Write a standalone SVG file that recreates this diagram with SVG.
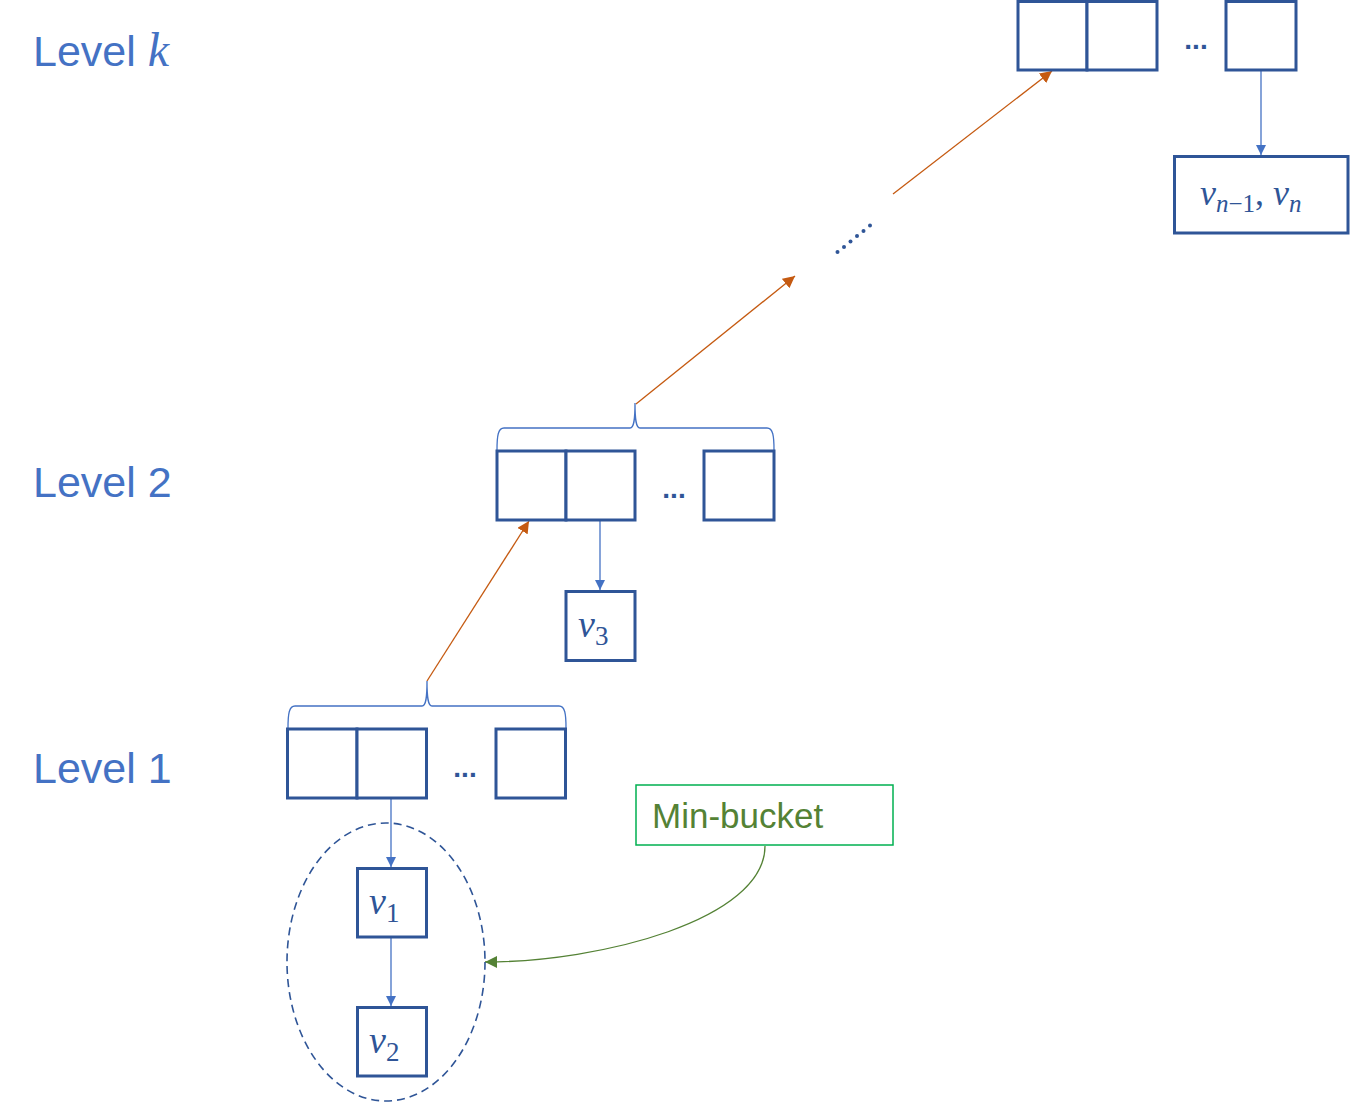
<svg xmlns="http://www.w3.org/2000/svg" width="1350" height="1102" viewBox="0 0 1350 1102">
<defs>
<style>
.box{fill:#fff;stroke:#2F5597;stroke-width:3}
.lvl{font-family:"Liberation Sans",Arial,sans-serif;font-size:43px;fill:#4472C4}
.m{font-family:"Liberation Serif","Times New Roman",serif;font-style:italic;fill:#2F5597}
.up{font-style:normal}
.dots{font-family:"Liberation Sans",Arial,sans-serif;font-size:28px;fill:#2F5597;font-weight:bold}
.blue{stroke:#4472C4;stroke-width:1.3;fill:none}
.org{stroke:#C55A11;stroke-width:1.3;fill:none}
.brace{stroke:#4472C4;stroke-width:1.3;fill:none}
</style>
<marker id="ab" viewBox="0 0 10 10" refX="10" refY="5" markerWidth="10" markerHeight="10" markerUnits="userSpaceOnUse" orient="auto"><path d="M0,0L10,5L0,10z" fill="#4472C4"/></marker>
<marker id="ao" viewBox="0 0 10 10" refX="10" refY="5" markerWidth="12" markerHeight="12" markerUnits="userSpaceOnUse" orient="auto"><path d="M0,0L10,5L0,10z" fill="#C55A11"/></marker>
<marker id="ag" viewBox="0 0 10 10" refX="10" refY="5" markerWidth="12" markerHeight="12" markerUnits="userSpaceOnUse" orient="auto"><path d="M0,0L10,5L0,10z" fill="#548235"/></marker>
</defs>
<rect width="1350" height="1102" fill="#fff"/>

<g id="labels">
<text class="lvl" x="33" y="66">Level <tspan font-family="Liberation Serif,serif" font-style="italic" font-size="48">k</tspan></text>
<text class="lvl" x="33" y="497">Level 2</text>
<text class="lvl" x="33" y="783">Level 1</text>
</g>

<g id="connectors">
<line class="blue" x1="1261" y1="71" x2="1261" y2="155" marker-end="url(#ab)"/>
<line class="blue" x1="600" y1="521" x2="600" y2="590" marker-end="url(#ab)"/>
<line class="blue" x1="391" y1="799" x2="391" y2="867" marker-end="url(#ab)"/>
<line class="blue" x1="391" y1="938" x2="391" y2="1006" marker-end="url(#ab)"/>
<line class="org" x1="427" y1="681" x2="529" y2="521" marker-end="url(#ao)"/>
<line class="org" x1="636" y1="404" x2="795" y2="276" marker-end="url(#ao)"/>
<line class="org" x1="893" y1="194" x2="1052" y2="71" marker-end="url(#ao)"/>
<path d="M765,846 C765,920 600,962 485,962" stroke="#548235" stroke-width="1.3" fill="none" marker-end="url(#ag)"/>
</g>

<g id="braces">
<path class="brace" d="M497,450 C497,436 498,428 504,428 L630,428 C634,428 635,420 635,403 C635,420 636,428 640,428 L767,428 C773,428 774,436 774,450"/>
<path class="brace" d="M288,728 C288,714 289,706 295,706 L422,706 C426,706 427,698 427,681 C427,698 428,706 432,706 L559,706 C565,706 566,714 566,728"/>
</g>

<g id="level-k">
<rect class="box" x="1018" y="1.5" width="69" height="68.5"/>
<rect class="box" x="1087" y="1.5" width="70" height="68.5"/>
<text class="dots" x="1196" y="49" text-anchor="middle">...</text>
<rect class="box" x="1226" y="1.5" width="70" height="68.5"/>
</g>
<g id="node-vn">
<rect class="box" x="1174.5" y="156.5" width="173.5" height="76.5"/>
<text class="m" x="1200" y="205" font-size="36">v<tspan font-size="25" dy="7">n<tspan class="up">−1</tspan></tspan><tspan dy="-7" class="up">, </tspan><tspan>v</tspan><tspan font-size="25" dy="7">n</tspan></text>
</g>

<g id="dots-mid" fill="#2F5597">
<circle cx="837.5" cy="252" r="2"/>
<circle cx="844" cy="247" r="2"/>
<circle cx="850.5" cy="241.5" r="2"/>
<circle cx="857" cy="236" r="2"/>
<circle cx="863.5" cy="231" r="2"/>
<circle cx="870" cy="225.5" r="2"/>
</g>

<g id="level-2">
<rect class="box" x="497" y="451" width="69" height="69"/>
<rect class="box" x="566" y="451" width="69" height="69"/>
<text class="dots" x="674" y="498" text-anchor="middle">...</text>
<rect class="box" x="704" y="451" width="70" height="69"/>
</g>
<g id="node-v3">
<rect class="box" x="566" y="591.5" width="69" height="69"/>
<text class="m" x="578" y="637" font-size="38">v<tspan class="up" font-size="27" dy="8">3</tspan></text>
</g>

<g id="level-1">
<rect class="box" x="287.5" y="729" width="69.5" height="69"/>
<rect class="box" x="357" y="729" width="69.5" height="69"/>
<text class="dots" x="465" y="777" text-anchor="middle">...</text>
<rect class="box" x="496" y="729" width="69.5" height="69"/>
</g>

<g id="min-bucket-group">
<ellipse cx="386" cy="962" rx="99" ry="139" fill="none" stroke="#2F5597" stroke-width="1.6" stroke-dasharray="8,5"/>
</g>
<g id="node-v1">
<rect class="box" x="357.5" y="868.5" width="69" height="68.5"/>
<text class="m" x="369" y="914" font-size="38">v<tspan class="up" font-size="27" dy="8">1</tspan></text>
</g>
<g id="node-v2">
<rect class="box" x="357.5" y="1007.5" width="69" height="68.5"/>
<text class="m" x="369" y="1053" font-size="38">v<tspan class="up" font-size="27" dy="8">2</tspan></text>
</g>

<g id="min-bucket">
<rect x="636" y="785" width="257" height="60" fill="#fff" stroke="#00B050" stroke-width="1.5"/>
<text x="652" y="828" font-family="Liberation Sans,Arial,sans-serif" font-size="35" fill="#548235">Min-bucket</text>
</g>
</svg>
